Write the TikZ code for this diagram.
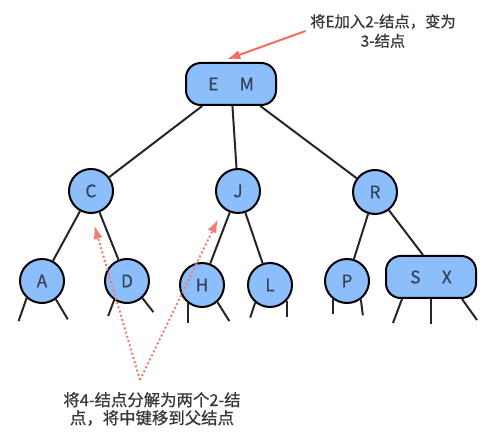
\documentclass[tikz,border=0pt]{standalone}
\usepackage{fontspec}
\setmainfont{Noto Sans CJK SC}
\newfontfamily\notefont{Noto Sans CJK SC}[FakeBold=0.7]
\newfontfamily\keyfont{Noto Sans CJK SC}[FakeBold=0.4]
\usetikzlibrary{arrows.meta, positioning, calc}
\definecolor{keyfill}{RGB}{140,190,252}
\definecolor{keytext}{RGB}{52,66,88}
\definecolor{notered}{RGB}{242,108,96}
\definecolor{notetext}{RGB}{55,55,55}

\begin{document}
\begin{tikzpicture}[
    x=0.75pt, y=-0.75pt,
    two/.style={circle, draw, line width=1.5pt, fill=keyfill, minimum size=33pt,
      inner sep=0pt, text=keytext, font=\keyfont\fontsize{13}{15}\selectfont},
    three/.style={rectangle, rounded corners=11pt, draw, line width=1.5pt, fill=keyfill,
      minimum width=67.5pt, minimum height=31.5pt, text=keytext,
      font=\keyfont\fontsize{13}{15}\selectfont},
    link/.style={draw=black!85, line width=1.5pt},
    note/.style={align=center, text=notetext},
    hint/.style={draw=notered, line width=1.5pt, -{Latex[length=10pt,width=7pt]}},
    hintdots/.style={draw=notered!90, line width=1.5pt, dash pattern=on 1.5pt off 1.8pt,
      shorten >=9pt, -{Latex[length=10pt,width=7pt]}}]
  \useasboundingbox (0,0) rectangle (493,434);

  % keys
  \node[three] (EM) at (231,84) {E\hspace{16pt}M};
  \node[two] (C) at (91,191) {C};
  \node[two] (J) at (238,191) {J};
  \node[two] (R) at (375,192) {R};
  \node[two] (A) at (42,281) {A};
  \node[two] (D) at (127,281) {D};
  \node[two] (H) at (202,285) {H};
  \node[two] (L) at (270,285) {L};
  \node[two] (P) at (347,281) {P};
  \node[three] (SX) at (431,277) {S\hspace{16pt}X};

  % links
  \draw[link] (EM) -- (C);
  \draw[link] (EM) -- (J);
  \draw[link] (EM) -- (R);
  \draw[link] (C) -- (A);
  \draw[link] (C) -- (D);
  \draw[link] (J) -- (H);
  \draw[link] (J) -- (L);
  \draw[link] (R) -- (P);
  \draw[link] (R) -- ([xshift=-6pt]SX.north);

  % empty subtrees
  \foreach \n/\a/\dx/\dy in {A/228/-8/23, A/307/12/20, D/236/-6/16, D/312/11/14,
      H/232/0/20, H/312/12/19, L/230/-5/15, L/317/0/16, P/232/0/15, P/307/2/16}
    \draw[link] (\n.\a) -- ++(\dx,\dy);
  \draw[link] ($(SX.south)+(-29,0)$) -- ++(-9,24);
  \draw[link] (SX.south) -- ++(0,25);
  \draw[link] ($(SX.south)+(31,0)$) -- ++(15,21);

  % notes
  \node[note, font=\notefont\fontsize{11.5}{14.5}\selectfont] (note1) at (383,31)
    {将E加入2-结点，变为\\3-结点};
  \draw[hint] (note1.west) -- ([xshift=-3pt,yshift=2pt]EM.north);

  \node[note, font=\notefont\fontsize{12.3}{13.5}\selectfont] (note2) at (152,409)
    {将4-结点分解为两个2-结\\点，将中键移到父结点};
  \coordinate (split) at (140,380);
  \draw[hintdots] (split) -- (C.south);
  \draw[hintdots] (split) -- (J.230);
\end{tikzpicture}
\end{document}
